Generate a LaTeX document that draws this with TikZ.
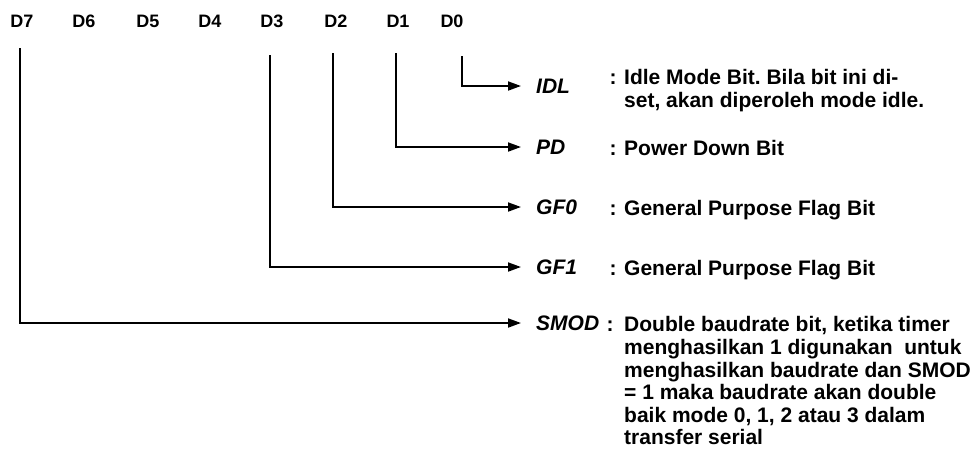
\documentclass[tikz,border=0pt]{standalone}
\usepackage{fontspec}
\setmainfont{Liberation Sans}
\usepackage{tikz}
\usetikzlibrary{arrows.meta,positioning}
\frenchspacing
\tikzstyle{bitlabel} = [inner sep=0pt, font=\fontsize{18}{20}\selectfont\bfseries]
\tikzstyle{flagname} = [inner sep=0pt, anchor=west, font=\fontsize{21}{23}\selectfont\bfseries\itshape]
\tikzstyle{colon} = [inner sep=0pt, anchor=base, font=\fontsize{21}{23}\selectfont\bfseries]
\tikzstyle{desc} = [inner sep=0pt, anchor=north west, align=left, font=\fontsize{21}{22.6}\selectfont\bfseries]
\tikzstyle{arrow} = [-{Triangle[length=13pt,width=9pt]}, line width=1.8pt, shorten >=15pt]

\begin{document}
\begin{tikzpicture}[x=1pt, y=-1pt]
\useasboundingbox (0,0) rectangle (974,456);
% bit names
\node[bitlabel] (d7) at (22,21) {D7};
\node[bitlabel] (d6) at (84,21) {D6};
\node[bitlabel] (d5) at (148,21) {D5};
\node[bitlabel] (d4) at (210,21) {D4};
\node[bitlabel] (d3) at (272,21) {D3};
\node[bitlabel] (d2) at (336,21) {D2};
\node[bitlabel] (d1) at (398,21) {D1};
\node[bitlabel] (d0) at (452,21) {D0};

% line starts below the bits
\coordinate (t7) at (20,48);
\coordinate (t3) at (270,55);
\coordinate (t2) at (333,53);
\coordinate (t1) at (396,53);
\coordinate (t0) at (462,56);

% flag names
\node[flagname] (idl) at (536,86) {IDL};
\node[flagname] (pd) at (536,147) {PD};
\node[flagname] (gf0) at (536,207) {GF0};
\node[flagname] (gf1) at (536,267) {GF1};
\node[flagname] (smod) at (536,323) {SMOD};

% descriptions
\node[colon] (cidl) at (613,84.5) {:};
\node[desc] (didl) at (624,69.4) {Idle Mode Bit. Bila bit ini di-\\set, akan diperoleh mode idle.};
\node[colon] (cpd) at (613,155) {:};
\node[desc] (dpd) at (624,139.9) {Power Down Bit};
\node[colon] (cgf0) at (613,215) {:};
\node[desc] (dgf0) at (624,199.9) {General Purpose Flag Bit};
\node[colon] (cgf1) at (613,275) {:};
\node[desc] (dgf1) at (624,259.9) {General Purpose Flag Bit};
\node[colon] (csmod) at (610,331.5) {:};
\node[desc] (dsmod) at (624,316.4) {Double baudrate bit, ketika timer\\menghasilkan 1 digunakan\ \ untuk\\menghasilkan baudrate dan SMOD\\= 1 maka baudrate akan double\\baik mode 0, 1, 2 atau 3 dalam\\transfer serial};

\draw[arrow] (t0) |- (idl);
\draw[arrow] (t1) |- (pd);
\draw[arrow] (t2) |- (gf0);
\draw[arrow] (t3) |- (gf1);
\draw[arrow] (t7) |- (smod);
\end{tikzpicture}
\end{document}
